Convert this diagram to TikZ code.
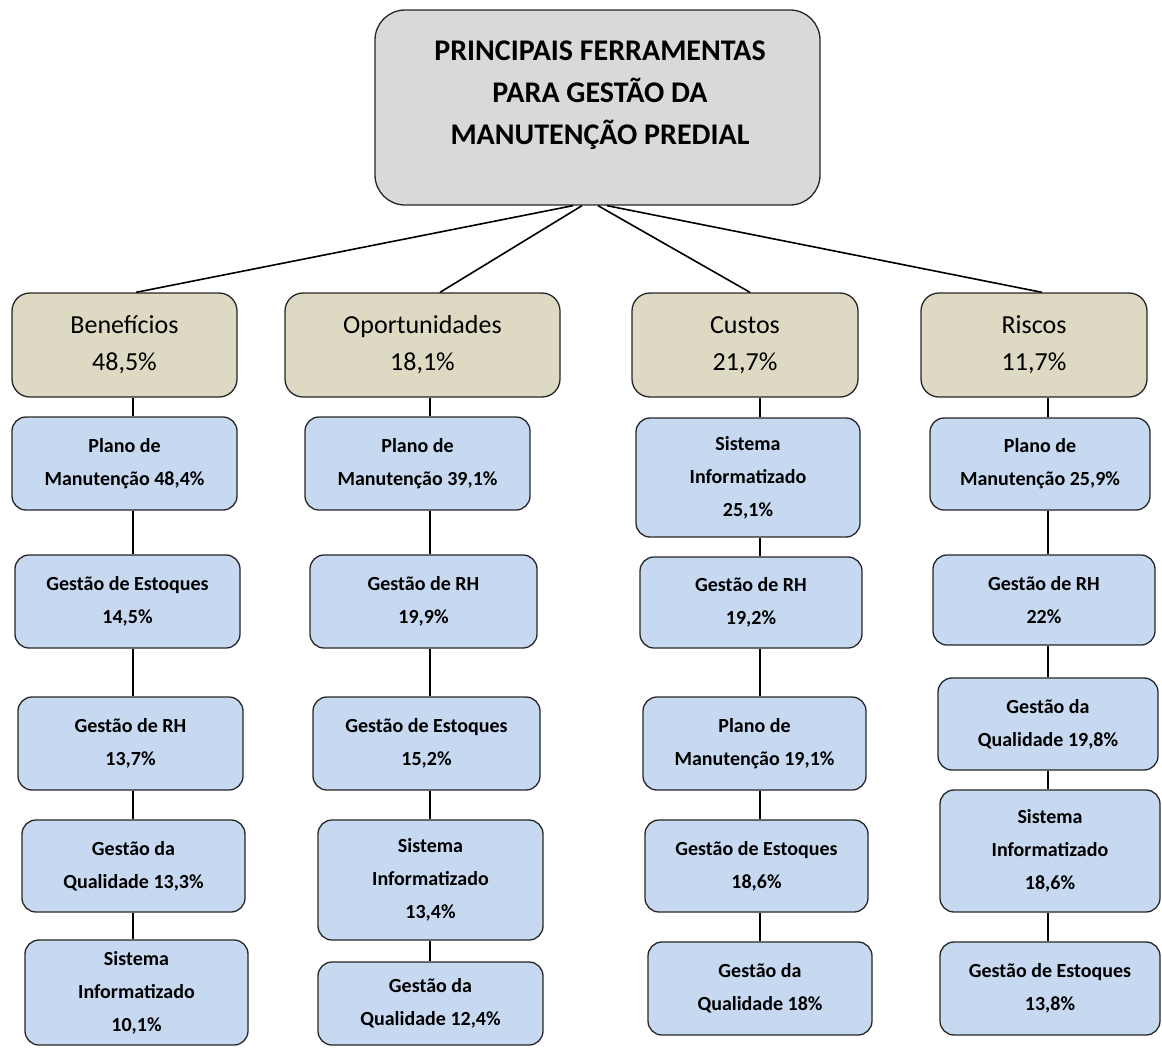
\documentclass[tikz,border=0pt]{standalone}
\usepackage{fontspec}
\setmainfont{Carlito}
\definecolor{topgray}{HTML}{D9D9D9}
\definecolor{cattan}{HTML}{DDD9C3}
\definecolor{toolblue}{HTML}{C6D9F1}
\begin{document}
\begin{tikzpicture}[x=1pt,y=-1pt,
    topbox/.style={draw=black!85,line width=1.3pt,fill=topgray,rounded corners=30pt,inner sep=0pt},
    catbox/.style={draw=black!85,line width=1.3pt,fill=cattan,rounded corners=18pt,inner sep=0pt,align=center,font=\fontsize{26}{37}\selectfont},
    toolbox/.style={draw=black!85,line width=1.3pt,fill=toolblue,rounded corners=14pt,inner sep=0pt,align=center,font=\bfseries\fontsize{20}{33}\selectfont},
    link/.style={draw=black,line width=1.6pt}]
            \useasboundingbox (0,0) rectangle (1162,1050);
            \node [topbox,minimum width=445pt,minimum height=195pt] (top) at (597.5,107.5) {};
            \node [align=center,font=\bfseries\fontsize{30}{42}\selectfont] (title) at (600,95) {PRINCIPAIS FERRAMENTAS\\PARA GESTÃO DA\\MANUTENÇÃO PREDIAL};
            \node [catbox,minimum width=225pt,minimum height=104pt] (ben) at (124.5,345) {Benefícios\\48,5\%};
            \node [catbox,minimum width=275pt,minimum height=104pt] (opo) at (422.5,345) {Oportunidades\\18,1\%};
            \node [catbox,minimum width=226pt,minimum height=104pt] (cus) at (745,345) {Custos\\21,7\%};
            \node [catbox,minimum width=226pt,minimum height=104pt] (ris) at (1034,345) {Riscos\\11,7\%};
            \draw [link] ([xshift=-24.5pt]top.south) -- (ben.north -| 136,0);
            \draw [link] ([xshift=-15.5pt]top.south) -- (opo.north -| 440,0);
            \draw [link] ([xshift=0.5pt]top.south) -- (cus.north -| 750,0);
            \draw [link] ([xshift=9.5pt]top.south) -- (ris.north -| 1042,0);
            \coordinate (c1) at (133,0);
            \coordinate (c2) at (430,0);
            \coordinate (c3) at (760,0);
            \coordinate (c4) at (1048,0);
            \node [toolbox,minimum width=225pt,minimum height=93pt] (b11) at (124.5,463.5) {Plano de\\Manutenção 48,4\%};
            \node [toolbox,minimum width=225pt,minimum height=93pt] (b12) at (127.5,601.5) {Gestão de Estoques\\14,5\%};
            \node [toolbox,minimum width=225pt,minimum height=93pt] (b13) at (130.5,743.5) {Gestão de RH\\13,7\%};
            \node [toolbox,minimum width=223pt,minimum height=92pt] (b14) at (133.5,866) {Gestão da\\Qualidade 13,3\%};
            \node [toolbox,minimum width=223pt,minimum height=105pt] (b15) at (136.5,992.5) {Sistema\\Informatizado\\10,1\%};
            \node [toolbox,minimum width=225pt,minimum height=93pt] (b21) at (417.5,463.5) {Plano de\\Manutenção 39,1\%};
            \node [toolbox,minimum width=227pt,minimum height=93pt] (b22) at (423.5,601.5) {Gestão de RH\\19,9\%};
            \node [toolbox,minimum width=227pt,minimum height=93pt] (b23) at (426.5,743.5) {Gestão de Estoques\\15,2\%};
            \node [toolbox,minimum width=225pt,minimum height=120pt] (b24) at (430.5,880) {Sistema\\Informatizado\\13,4\%};
            \node [toolbox,minimum width=225pt,minimum height=83pt] (b25) at (430.5,1003.5) {Gestão da\\Qualidade 12,4\%};
            \node [toolbox,minimum width=224pt,minimum height=119pt] (b31) at (748,477.5) {Sistema\\Informatizado\\25,1\%};
            \node [toolbox,minimum width=222pt,minimum height=91pt] (b32) at (751,602.5) {Gestão de RH\\19,2\%};
            \node [toolbox,minimum width=223pt,minimum height=93pt] (b33) at (754.5,743.5) {Plano de\\Manutenção 19,1\%};
            \node [toolbox,minimum width=223pt,minimum height=92pt] (b34) at (756.5,866) {Gestão de Estoques\\18,6\%};
            \node [toolbox,minimum width=224pt,minimum height=93pt] (b35) at (760,988.5) {Gestão da\\Qualidade 18\%};
            \node [toolbox,minimum width=220pt,minimum height=92pt] (b41) at (1040,464) {Plano de\\Manutenção 25,9\%};
            \node [toolbox,minimum width=222pt,minimum height=90pt] (b42) at (1044,600) {Gestão de RH\\22\%};
            \node [toolbox,minimum width=220pt,minimum height=92pt] (b43) at (1048,724) {Gestão da\\Qualidade 19,8\%};
            \node [toolbox,minimum width=220pt,minimum height=122pt] (b44) at (1050,851) {Sistema\\Informatizado\\18,6\%};
            \node [toolbox,minimum width=220pt,minimum height=93pt] (b45) at (1050,988.5) {Gestão de Estoques\\13,8\%};
            \draw [link] (ben.south -| c1) -- (b11.north -| c1);
            \draw [link] (opo.south -| c2) -- (b21.north -| c2);
            \draw [link] (cus.south -| c3) -- (b31.north -| c3);
            \draw [link] (ris.south -| c4) -- (b41.north -| c4);
            \foreach \col in {1,2,3,4} {
              \foreach \row [evaluate=\row as \next using int(\row+1)] in {1,2,3,4} {
                \draw [link] (b\col\row.south -| c\col) -- (b\col\next.north -| c\col);
              }
            }
        \end{tikzpicture}
\end{document}
